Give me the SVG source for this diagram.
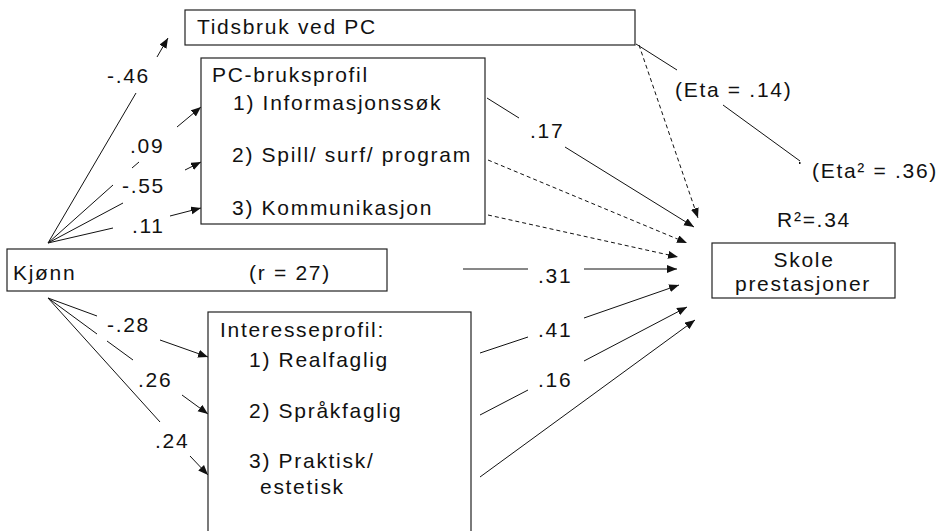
<svg xmlns="http://www.w3.org/2000/svg" width="944" height="531" viewBox="0 0 944 531">
<style>
text{font-family:"Liberation Sans",Arial,sans-serif;font-size:21px;letter-spacing:1.7px;fill:#111}
.box{fill:#fff;stroke:#222;stroke-width:1.2}
.ln{fill:none;stroke:#111;stroke-width:1}
.ar{marker-end:url(#ah)}
.ds{stroke-dasharray:4 3}
.mid{text-anchor:middle}
</style>
<defs>
<marker id="ah" markerUnits="userSpaceOnUse" markerWidth="12" markerHeight="10" refX="10" refY="4" orient="auto">
<path d="M0,0 L10,4 L0,8 z" fill="#111"/>
</marker>
</defs>
<rect width="944" height="531" fill="#fff"/>

<g id="connectors">
<path class="ln ar" d="M48,243 L136,93 M157,57 L168,38"/>
<path class="ln ar" d="M48,243 L113,185 M132,168 L139,162 M177,127 L201,107"/>
<path class="ln ar" d="M48,243 L123,203 M185,170 L201,162"/>
<path class="ln ar" d="M48,243 L113,228 M170,216 L201,208"/>
<path class="ln ar" d="M48,298 L97,316 M160,340 L208,357"/>
<path class="ln ar" d="M48,298 L97,334 M107,341 L133,360 M182,395 L208,414"/>
<path class="ln ar" d="M48,298 L160,422 M190,456 L208,475"/>
<path class="ln ar" d="M487,98 L519,118 M565,147 L694,227"/>
<path class="ln ar ds" d="M488,160 L687,243"/>
<path class="ln ar ds" d="M488,215 L678,257"/>
<path class="ln ar" d="M463,269 L528,269 M584,269 L677,269"/>
<path class="ln ar" d="M480,353 L528,337 M584,318 L679,285"/>
<path class="ln ar" d="M480,415 L528,390 M584,361 L687,307"/>
<path class="ln ar" d="M480,477 L695,320"/>
<path class="ln ar ds" d="M639,45 L698,218"/>
<path class="ln" d="M636,44 L677,70 M723,105 L800,161"/>
<rect x="799" y="162" width="1.5" height="2" fill="#111"/>
<text x="107" y="83">-.46</text>
<text x="130" y="153">.09</text>
<text x="122" y="193">-.55</text>
<text x="132" y="233">.11</text>
<text x="107" y="332">-.28</text>
<text x="138" y="387">.26</text>
<text x="155" y="448">.24</text>
<text x="530" y="138">.17</text>
<text x="538" y="283">.31</text>
<text x="538" y="337">.41</text>
<text x="538" y="387">.16</text>
<text x="675" y="97">(Eta = .14)</text>
<text x="812" y="178">(Eta² = .36)</text>
</g>

<g id="tidsbruk">
<rect class="box" x="185" y="10" width="450" height="35"/>
<text x="197" y="34">Tidsbruk ved PC</text>
</g>

<g id="pcbruk">
<rect class="box" x="201" y="58" width="284" height="166"/>
<text x="212" y="82">PC-bruksprofil</text>
<text x="233" y="110">1) Informasjonssøk</text>
<text x="232" y="162">2) Spill/ surf/ program</text>
<text x="232" y="215">3) Kommunikasjon</text>
</g>

<g id="kjonn">
<rect class="box" x="7" y="249" width="380" height="42"/>
<text x="13" y="280">Kjønn</text>
<text x="249" y="280">(r = 27)</text>
</g>

<g id="interesse">
<rect class="box" x="208" y="312" width="263" height="240"/>
<text x="220" y="337">Interesseprofil:</text>
<text x="249" y="367">1) Realfaglig</text>
<text x="249" y="418">2) Språkfaglig</text>
<text x="249" y="468">3) Praktisk/</text>
<text x="260" y="494">estetisk</text>
</g>

<g id="skole">
<text class="mid" x="814" y="227">R²=.34</text>
<rect class="box" x="712" y="243" width="183" height="55"/>
<text class="mid" x="804" y="267">Skole</text>
<text class="mid" x="803" y="291">prestasjoner</text>
</g>
</svg>
